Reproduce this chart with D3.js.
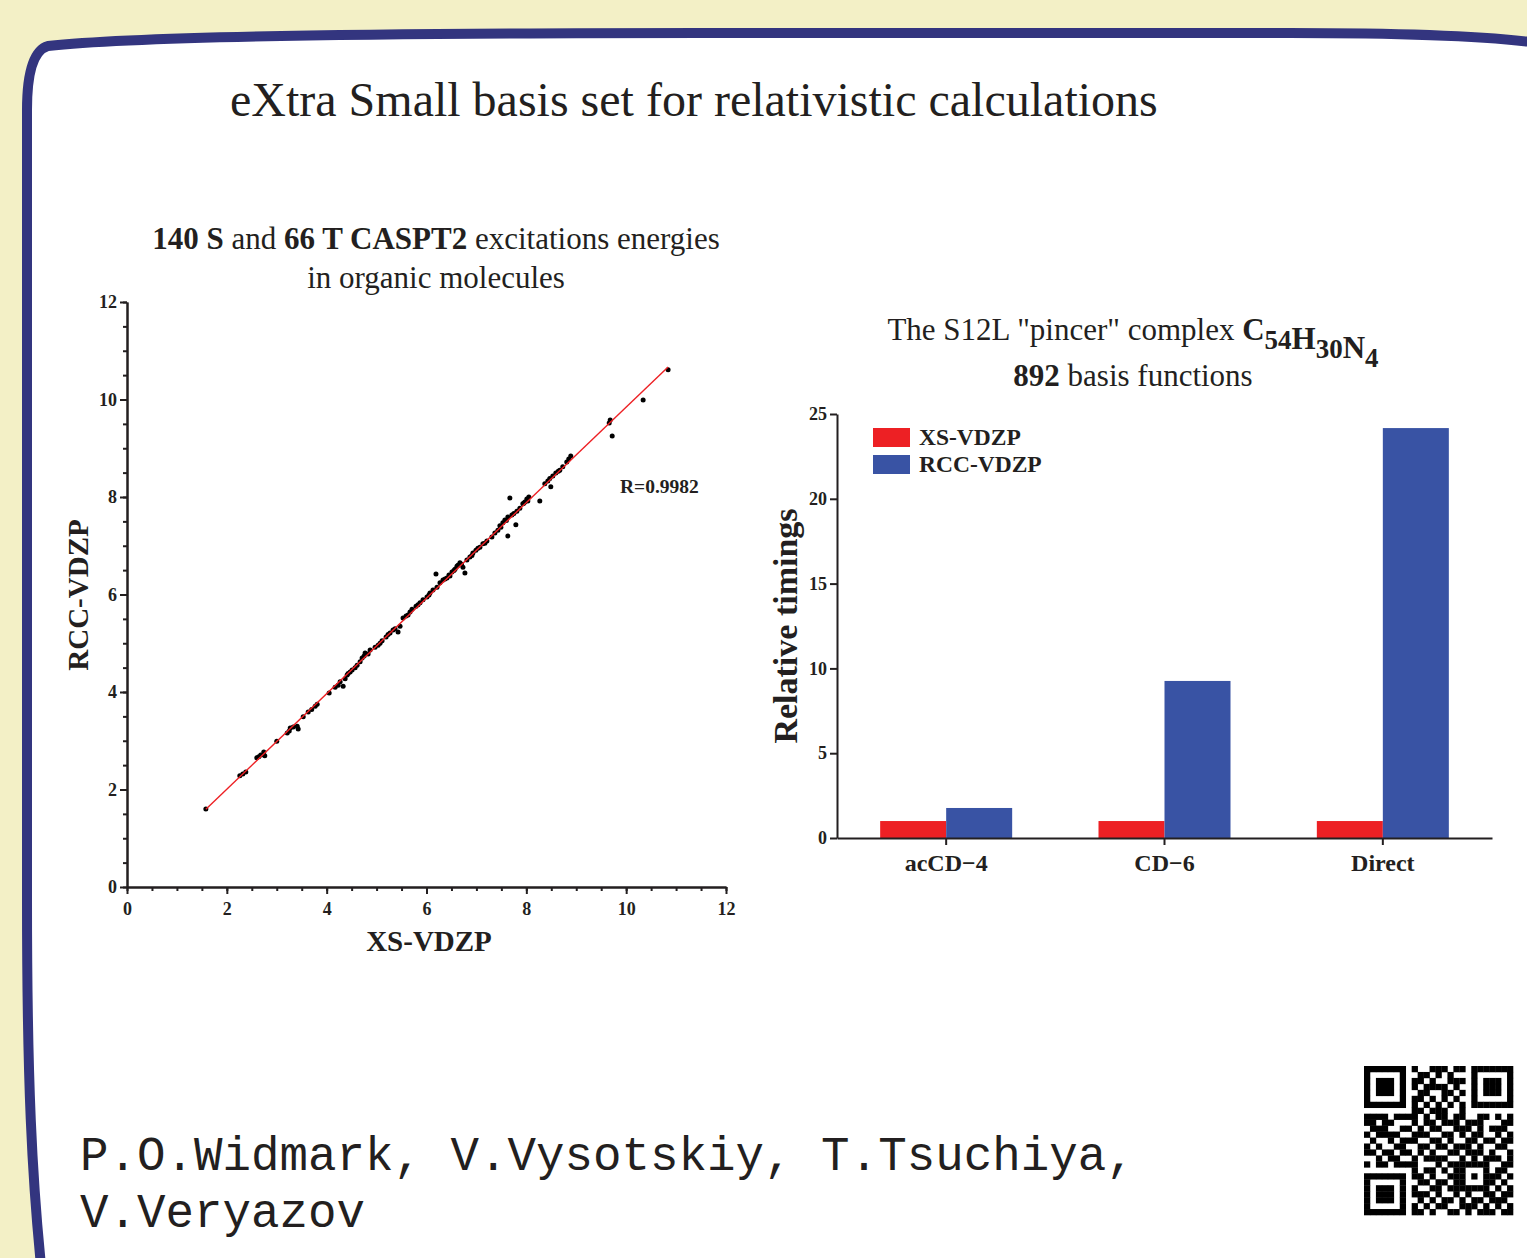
<!DOCTYPE html>
<html>
<head>
<meta charset="utf-8">
<title>eXtra Small basis set</title>
<script src="https://cdn.jsdelivr.net/npm/d3@7"></script>
<style>
  html, body { margin:0; padding:0; background:#f3f0c6; }
  svg { display:block; }
  text { font-family: "Liberation Serif", "Times New Roman", serif; fill:#231f20; }
</style>
</head>
<body>
<script>
// scatter: XS-VDZP vs RCC-VDZP excitation energies (eV)
var xsEnergies = [1.58,2.26,2.32,2.38,2.60,2.68,2.74,2.76,3.00,3.21,3.27,3.33,3.41,3.43,3.53,3.63,3.77,3.81,4.05,4.17,
  4.23,4.27,4.33,4.37,4.41,4.47,4.51,4.61,4.67,4.71,4.77,4.75,4.87,4.97,5.03,5.11,5.19,5.27,5.33,5.43,
  5.47,5.53,5.59,5.67,5.71,5.79,5.87,5.93,6.01,6.07,6.13,6.21,6.19,6.27,6.33,6.41,6.45,6.51,6.57,6.61,
  6.67,6.77,6.73,6.81,6.87,6.93,6.99,7.07,7.13,7.21,7.31,7.37,7.43,7.49,7.53,7.57,7.63,7.63,7.67,7.71,
  7.79,7.81,7.87,7.93,7.97,8.01,8.05,8.27,8.37,8.43,8.49,8.53,8.59,8.67,8.73,8.81,8.85,8.89,9.66,9.68,
  9.72,10.34,10.84,4.43,4.57,4.83,5.07,5.23,5.37,6.37,6.47,6.55,6.63,6.70,6.91,7.03,7.17,7.47,7.60,7.75,
  7.95,8.03,8.47,8.64,3.25,3.70,2.64,5.63,5.83,6.05];
var rccEnergies = [1.60,2.28,2.32,2.36,2.65,2.71,2.77,2.69,2.99,3.16,3.26,3.28,3.30,3.24,3.49,3.59,3.71,3.75,3.98,4.10,
  4.14,4.21,4.12,4.27,4.35,4.41,4.45,4.55,4.62,4.70,4.80,4.74,4.86,4.92,4.96,5.05,5.13,5.21,5.27,5.23,
  5.35,5.52,5.56,5.64,5.70,5.76,5.83,5.89,5.95,6.03,6.09,6.15,6.42,6.24,6.30,6.34,6.40,6.46,6.52,6.58,
  6.65,6.44,6.56,6.71,6.77,6.85,6.91,6.97,7.04,7.10,7.18,7.26,7.32,7.38,7.47,7.53,7.59,7.20,7.98,7.63,
  7.43,7.71,7.77,7.86,7.90,7.96,8.00,7.92,8.27,8.33,8.21,8.43,8.49,8.55,8.62,8.72,8.78,8.84,9.52,9.58,
  9.25,9.99,10.61,4.38,4.50,4.78,5.00,5.18,5.30,6.32,6.38,6.49,6.60,6.62,6.80,6.95,7.05,7.41,7.52,7.66,
  7.87,7.92,8.38,8.53,3.20,3.64,2.67,5.58,5.79,5.99];
var scatterTicks = [0,2,4,6,8,10,12];
var correlationLabel = "R=0.9982";

// bars: relative timings for the S12L complex
var methods = ["acCD\u22124", "CD\u22126", "Direct"];
var basisSets = ["XS-VDZP", "RCC-VDZP"];
var xsTimings = [1.0, 1.0, 1.0];
var rccTimings = [1.77, 9.26, 24.17];
var timingTicks = [0,5,10,15,20,25];

var authorLines = ["P.O.Widmark, V.Vysotskiy, T.Tsuchiya,", "V.Veryazov"];

// qr code modules
var qrRows = [
  "1111111010011101101111111",
  "1000001001101010001000001",
  "1011101011010011101011101",
  "1011101010111101001011101",
  "1011101001100110101011101",
  "1000001011010101001000001",
  "1111111010101010101111111",
  "0000000011011100100000000",
  "1111011110101101100110101",
  "1101100010110111011100011",
  "0111001101011001110101110",
  "1011110011100110101100101",
  "0100101110011010011011011",
  "1010011001101101110100110",
  "1101101101010011011101001",
  "0010110010111100101011101",
  "1011011110001011111110011",
  "0000000010110101100010110",
  "1111111011010011101011101",
  "1000001001101101100011010",
  "1011101010011011111110101",
  "1011101011101001010011011",
  "1011101001010110101101110",
  "1000001010101100111010101",
  "1111111011010011010111011"
];

var width = 1527, height = 1258;
var colors = { red:"#ed2024", blue:"#3953a4", frame:"#33357f", ink:"#231f20" };

var svg = d3.select("body").append("svg")
    .attr("width", width)
    .attr("height", height);

svg.append("rect")
  .attr("width", width).attr("height", height)
  .attr("fill", "#f3f0c6");

// white panel with the rounded blue frame
svg.append("path")
  .attr("d", "M42,1275 C32,1180 27,1080 27,900 L27,110 Q27,52 48,46 C140,36 400,33 700,33 L1290,33 C1420,33 1500,37 1545,44 L1545,1275 Z")
  .attr("fill", "#ffffff")
  .attr("stroke", colors.frame)
  .attr("stroke-width", 10);

svg.append("text")
  .attr("x", 230).attr("y", 116)
  .style("font-size", "48px")
  .text("eXtra Small basis set for relativistic calculations");

// ---------- scatter ----------
var x = d3.scaleLinear().domain([0,12]).range([127,726]);
var y = d3.scaleLinear().domain([0,12]).range([887,302]);

var title1 = svg.append("text")
  .attr("x", 436).attr("y", 249)
  .attr("text-anchor", "middle")
  .style("font-size", "31px");
title1.append("tspan").style("font-weight","bold").text("140 S");
title1.append("tspan").text(" and ");
title1.append("tspan").style("font-weight","bold").text("66 T CASPT2");
title1.append("tspan").text(" excitations energies");
svg.append("text")
  .attr("x", 436).attr("y", 288)
  .attr("text-anchor", "middle")
  .style("font-size", "31px")
  .text("in organic molecules");

var minorTicks = d3.range(0, 12.01, 0.5);

function styleAxis(g){
  g.selectAll("path,line").attr("stroke", colors.ink).attr("stroke-width", 2);
  g.selectAll("text")
    .style("font-family", "Liberation Serif")
    .style("font-weight", "bold")
    .style("font-size", "18px")
    .attr("fill", colors.ink);
}

svg.append("g")
  .attr("transform", "translate(0,887)")
  .call(d3.axisBottom(x).tickValues(minorTicks).tickSize(4).tickFormat("").tickSizeOuter(0))
  .call(styleAxis);
svg.append("g")
  .attr("transform", "translate(0,887)")
  .call(d3.axisBottom(x).tickValues(scatterTicks).tickSize(7).tickPadding(8).tickSizeOuter(0))
  .call(styleAxis);
svg.append("g")
  .attr("transform", "translate(127,0)")
  .call(d3.axisLeft(y).tickValues(minorTicks).tickSize(4).tickFormat("").tickSizeOuter(0))
  .call(styleAxis);
svg.append("g")
  .attr("transform", "translate(127,0)")
  .call(d3.axisLeft(y).tickValues(scatterTicks).tickSize(7).tickPadding(3).tickSizeOuter(0))
  .call(styleAxis);

svg.append("text")
  .attr("x", 429).attr("y", 951)
  .attr("text-anchor", "middle")
  .style("font-size", "29px").style("font-weight", "bold")
  .text("XS-VDZP");
svg.append("text")
  .attr("transform", "translate(88,595)rotate(-90)")
  .attr("text-anchor", "middle")
  .style("font-size", "29px").style("font-weight", "bold")
  .text("RCC-VDZP");

// least squares line through the points
var pts = xsEnergies.map(function(d,i){ return [d, rccEnergies[i]]; });
var mx = d3.mean(xsEnergies), my = d3.mean(rccEnergies);
var sxy = d3.sum(pts, function(p){ return (p[0]-mx)*(p[1]-my); });
var sxx = d3.sum(pts, function(p){ return (p[0]-mx)*(p[0]-mx); });
var slope = sxy/sxx, icpt = my - slope*mx;
var xr = d3.extent(xsEnergies);

svg.selectAll(".pt")
  .data(pts)
.enter().append("circle")
  .attr("class", "pt")
  .attr("cx", function(d){ return x(d[0]); })
  .attr("cy", function(d){ return y(d[1]); })
  .attr("r", 2.5)
  .attr("fill", "#000");

svg.append("line")
  .attr("x1", x(xr[0])).attr("y1", y(slope*xr[0]+icpt))
  .attr("x2", x(xr[1])).attr("y2", y(slope*xr[1]+icpt))
  .attr("stroke", colors.red)
  .attr("stroke-width", 1.4);

svg.append("text")
  .attr("x", 620).attr("y", 493)
  .style("font-size", "19.5px").style("font-weight", "bold")
  .text(correlationLabel);

// ---------- bars ----------
var title2 = svg.append("text")
  .attr("x", 1133).attr("y", 340)
  .attr("text-anchor", "middle")
  .style("font-size", "31px");
title2.append("tspan").text('The S12L "pincer" complex ');
var formula = [["C","54"],["H","30"],["N","4"]];
formula.forEach(function(f){
  title2.append("tspan").style("font-weight","bold").text(f[0]);
  title2.append("tspan").style("font-weight","bold").style("font-size","27px").attr("dy", 9).text(f[1]);
  title2.append("tspan").attr("dy", -9).text("");
});
var title3 = svg.append("text")
  .attr("x", 1133).attr("y", 386)
  .attr("text-anchor", "middle")
  .style("font-size", "31px");
title3.append("tspan").style("font-weight","bold").text("892");
title3.append("tspan").text(" basis functions");

var bx = d3.scaleBand().domain(methods).range([837,1492]);
var bx1 = d3.scaleBand().domain(basisSets).range([0, bx.bandwidth()]).paddingOuter(0.654);
var by = d3.scaleLinear().domain([0,25]).range([838,414]);
var barColor = d3.scaleOrdinal().domain(basisSets).range([colors.red, colors.blue]);

var groups = svg.selectAll(".grp")
  .data(methods)
.enter().append("g")
  .attr("class", "grp")
  .attr("transform", function(d){ return "translate(" + bx(d) + ",0)"; });

groups.selectAll("rect")
  .data(function(d,i){ return [[basisSets[0], xsTimings[i]], [basisSets[1], rccTimings[i]]]; })
.enter().append("rect")
  .attr("x", function(d){ return bx1(d[0]); })
  .attr("width", bx1.bandwidth())
  .attr("y", function(d){ return by(d[1]); })
  .attr("height", function(d){ return by(0) - by(d[1]); })
  .attr("fill", function(d){ return barColor(d[0]); });

svg.append("g")
  .attr("transform", "translate(0,838)")
  .call(d3.axisBottom(bx).tickSize(7).tickPadding(9).tickSizeOuter(0))
  .call(styleAxis)
  .selectAll("text").style("font-size", "24px");
svg.append("g")
  .attr("transform", "translate(837,0)")
  .call(d3.axisLeft(by).tickValues(timingTicks).tickSize(7).tickPadding(3).tickSizeOuter(0))
  .call(styleAxis);

svg.append("text")
  .attr("transform", "translate(797,626)rotate(-90)")
  .attr("text-anchor", "middle")
  .style("font-size", "34px").style("font-weight", "bold")
  .text("Relative timings");

var legend = svg.selectAll(".lg")
  .data(basisSets)
.enter().append("g")
  .attr("class", "lg")
  .attr("transform", function(d,i){ return "translate(873," + (428 + i*27) + ")"; });
legend.append("rect")
  .attr("width", 37).attr("height", 19)
  .attr("fill", function(d){ return barColor(d); });
legend.append("text")
  .attr("x", 46).attr("y", 17)
  .style("font-size", "23.5px").style("font-weight", "bold")
  .text(String);

// ---------- authors ----------
svg.selectAll(".auth")
  .data(authorLines)
.enter().append("text")
  .attr("class", "auth")
  .attr("x", 80)
  .attr("y", function(d,i){ return 1170 + i*57; })
  .style("font-size", "47.5px")
  .style("font-family", "Liberation Mono")
  .attr("fill", "#2b2b2b")
  .text(String);

// ---------- qr ----------
var qrSize = 149, cell = qrSize/qrRows.length;
var qr = svg.append("g").attr("transform", "translate(1364,1066)");
qrRows.forEach(function(row, r){
  row.split("").forEach(function(c, k){
    if(c === "1"){
      qr.append("rect")
        .attr("x", k*cell).attr("y", r*cell)
        .attr("width", cell+0.3).attr("height", cell+0.3)
        .attr("fill", "#000");
    }
  });
});
</script>
</body>
</html>
